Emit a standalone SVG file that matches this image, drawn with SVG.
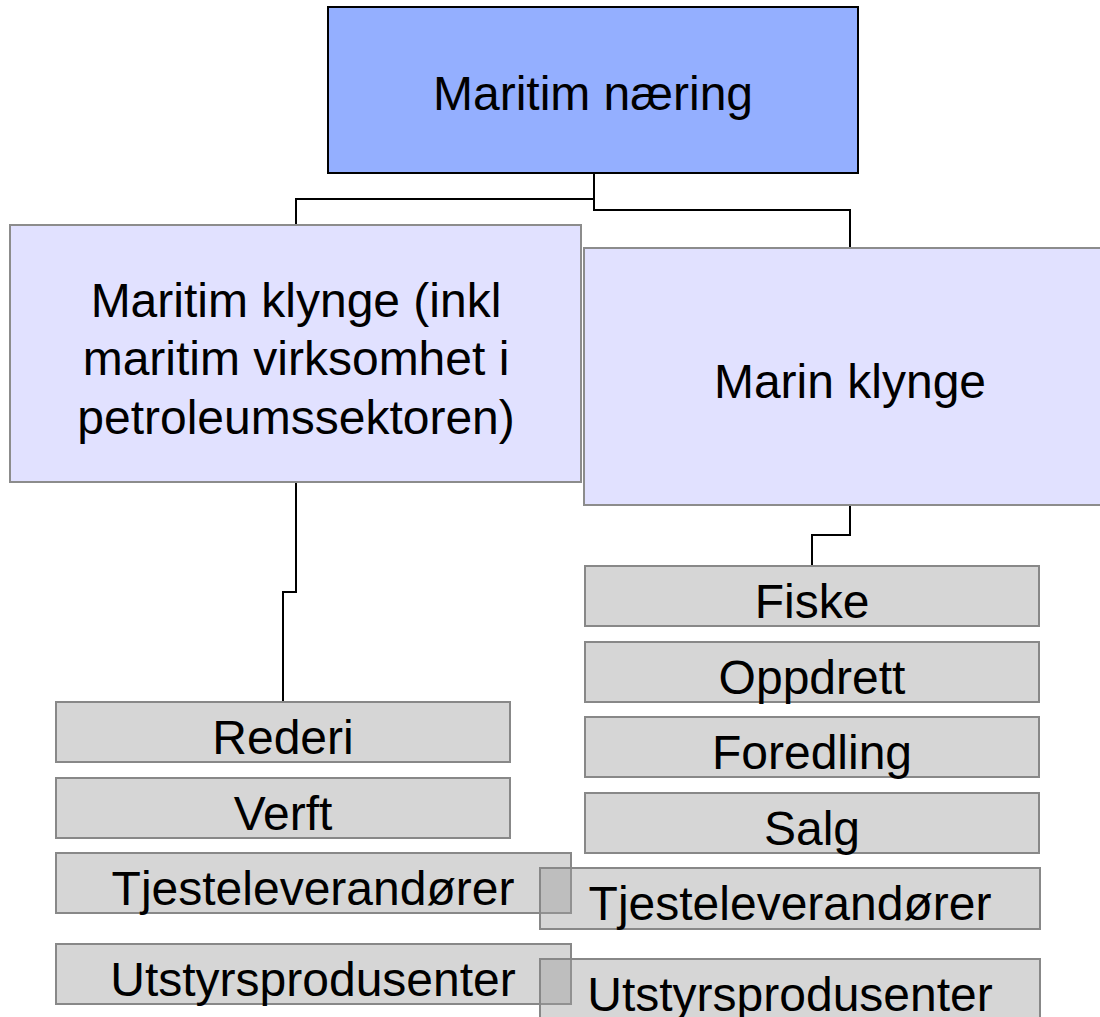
<svg xmlns="http://www.w3.org/2000/svg" width="1100" height="1017" viewBox="0 0 1100 1017">
<style>
.lbl{font-family:"Liberation Sans",Arial,sans-serif;font-size:48px;fill:#000;text-anchor:middle}
.top{fill:#94AFFF;stroke:#000;stroke-width:2}
.big{fill:#E1E1FF;stroke:#8C8C8C;stroke-width:2}
.item{fill:#9E9E9E;fill-opacity:0.42;stroke:#888;stroke-width:2}
.conn{fill:none;stroke:#000;stroke-width:2}
</style>
<rect width="1100" height="1017" fill="#fff"/>
<g id="connectors">
<path class="conn" d="M594,173 V199 H296 V225"/>
<path class="conn" d="M594,199 V210 H850 V248"/>
<path class="conn" d="M296,482 V592 H283 V702"/>
<path class="conn" d="M850,505 V535 H812 V566"/>
</g>
<g id="maritim-naering">
<rect class="top" x="328" y="7" width="530" height="166"/>
<text class="lbl" x="593" y="110">Maritim næring</text>
</g>
<g id="maritim-klynge">
<rect class="big" x="10" y="225" width="571" height="257"/>
<text class="lbl" x="296" y="317">Maritim klynge (inkl</text>
<text class="lbl" x="296" y="375">maritim virksomhet i</text>
<text class="lbl" x="296" y="434">petroleumssektoren)</text>
</g>
<g id="marin-klynge">
<rect class="big" x="584" y="248" width="532" height="257"/>
<text class="lbl" x="850" y="398">Marin klynge</text>
</g>
<g id="rederi">
<rect class="item" x="56" y="702" width="454" height="60"/>
<text class="lbl" x="283" y="754">Rederi</text>
</g>
<g id="verft">
<rect class="item" x="56" y="778" width="454" height="60"/>
<text class="lbl" x="283" y="830">Verft</text>
</g>
<g id="tjeste-left">
<rect class="item" x="56" y="853" width="515" height="60"/>
<text class="lbl" x="313" y="905">Tjesteleverandører</text>
</g>
<g id="utstyr-left">
<rect class="item" x="56" y="944" width="515" height="60"/>
<text class="lbl" x="313" y="996">Utstyrsprodusenter</text>
</g>
<g id="fiske">
<rect class="item" x="585" y="566" width="454" height="60"/>
<text class="lbl" x="812" y="618">Fiske</text>
</g>
<g id="oppdrett">
<rect class="item" x="585" y="642" width="454" height="60"/>
<text class="lbl" x="812" y="694">Oppdrett</text>
</g>
<g id="foredling">
<rect class="item" x="585" y="717" width="454" height="60"/>
<text class="lbl" x="812" y="769">Foredling</text>
</g>
<g id="salg">
<rect class="item" x="585" y="793" width="454" height="60"/>
<text class="lbl" x="812" y="845">Salg</text>
</g>
<g id="tjeste-right">
<rect class="item" x="540" y="868" width="500" height="61"/>
<text class="lbl" x="790" y="920">Tjesteleverandører</text>
</g>
<g id="utstyr-right">
<rect class="item" x="540" y="959" width="500" height="61"/>
<text class="lbl" x="790" y="1011">Utstyrsprodusenter</text>
</g>
</svg>
